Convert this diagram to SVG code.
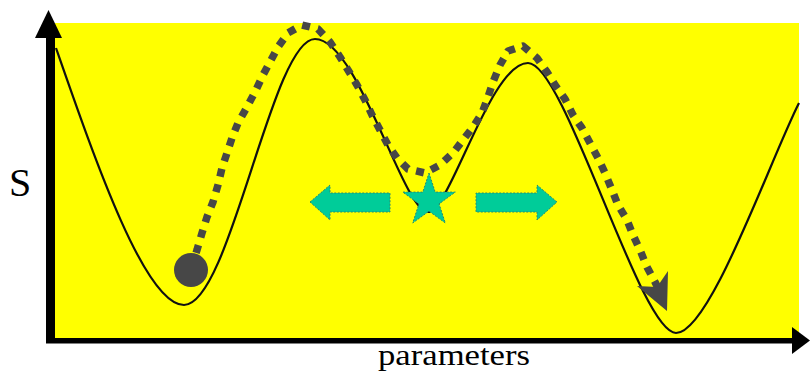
<svg xmlns="http://www.w3.org/2000/svg" width="810" height="374" viewBox="0 0 810 374">
  <style>
    .lbl { font-family: "Liberation Serif", "Times New Roman", serif; fill: #000; }
    .teal { fill: #00CC99; stroke: #2E8B6A; stroke-width: 1; stroke-dasharray: 2 1.5; }
    .dots { fill: none; stroke: #474747; stroke-width: 7.5; stroke-dasharray: 8 8; stroke-linecap: butt; stroke-linejoin: round; }
  </style>
  <rect width="810" height="374" fill="#ffffff"/>
  <g id="background">
    <rect x="55" y="23" width="744" height="315" fill="#FFFF00"/>
  </g>
  <g id="landscape">
    <path d="M56,48 C95,160 145,305 184,305 C230,305 272,39 315,39 C358,39 403,212 428,212 C450,212 490,63 528,63 C565,63 640,333 676,333 C710,333 770,160 799,103" fill="none" stroke="#111" stroke-width="2.2"/>
  </g>
  <g id="axes">
    <rect x="46" y="30" width="9" height="313" fill="#000"/>
    <polygon points="48.5,10 35,38 62,38" fill="#000"/>
    <rect x="46" y="338" width="748" height="5.5" fill="#000"/>
    <polygon points="810,340.5 792,327 792,354" fill="#000"/>
  </g>
  <g id="connectors">
    <path class="dots" d="M191,268 L197,250 L202,233 L207,217 L213,202 L218,185 L222,168 L227,153 L232,138 L238,123 L247,107 L255,92 L263,75 L270,62 L278,47 L288,33 L302,25 L318,29 L330,42 L340,57 L348,70 L357,85 L365,100 L372,115 L380,130 L388,145 L397,158 L408,169 L425,173 L440,165 L453,153 L463,140 L473,127 L482,113 L488,97 L493,82 L500,65 L508,51 L523,46 L537,58 L547,72 L555,85 L565,99 L573,115 L582,128 L590,143 L598,158 L605,173 L612,190 L618,205 L627,220 L633,235 L640,250 L647,267 L655,282 L659,290"/>
    <polygon points="637,286 657,287 668,271 667,311" fill="#474747"/>
  </g>
  <g id="ball">
    <circle cx="191" cy="270" r="17" fill="#474747"/>
  </g>
  <g id="star">
    <polygon class="teal" points="429,173 435.2,192.1 455.3,192.1 439.1,203.9 445.3,223 429,211.2 412.7,223 418.9,203.9 402.7,192.1 422.8,192.1"/>
  </g>
  <g id="arrow-left">
    <polygon class="teal" points="310,202 330,185 330,193 390,193 390,212 330,212 330,220"/>
  </g>
  <g id="arrow-right">
    <polygon class="teal" points="557,202 537,185 537,193 476,193 476,212 537,212 537,220"/>
  </g>
  <g id="labels">
    <text class="lbl" x="9" y="196" font-size="40">S</text>
    <text class="lbl" x="378" y="365" font-size="30" textLength="152" lengthAdjust="spacingAndGlyphs">parameters</text>
  </g>
</svg>
